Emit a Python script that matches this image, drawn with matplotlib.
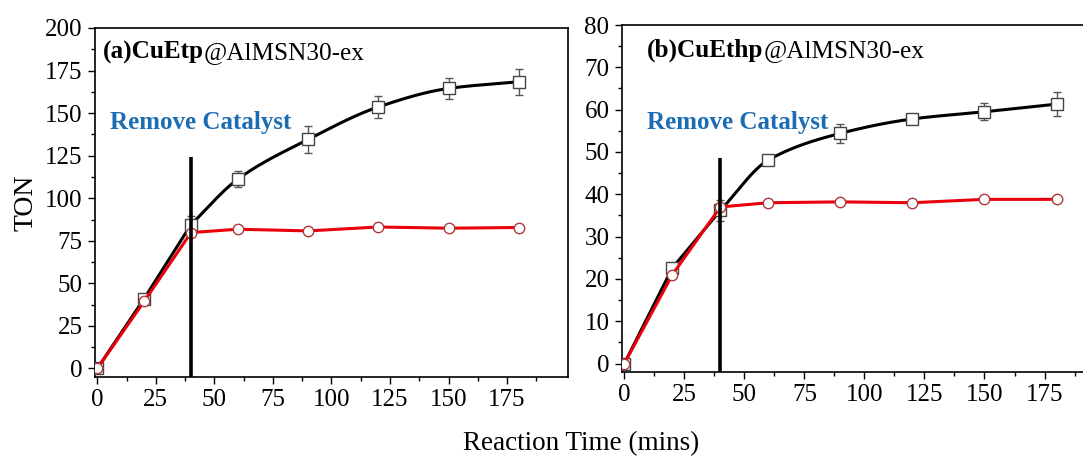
import numpy as np
import matplotlib
matplotlib.use("Agg")
import matplotlib.pyplot as plt
from matplotlib.ticker import MultipleLocator

plt.rcParams['font.family'] = ['Liberation Serif', 'DejaVu Serif']
plt.rcParams['font.size'] = 18

# Reaction times (mins)
time = [0, 20, 40, 60, 90, 120, 150, 180]

# (a) CuEtp@AlMSN30-ex
ton_a_cont = [0, 41, 84.5, 111.2, 134.5, 153.6, 164.5, 168.4]
err_a_cont = [0, 1.5, 5, 4.7, 7.7, 6.2, 6.3, 7.7]
ton_a_removed = [0, 39.4, 79.8, 81.8, 80.8, 83.1, 82.4, 82.8]

# (b) CuEthp@AlMSN30-ex
ton_b_cont = [0, 22.6, 36.2, 48.1, 54.4, 57.8, 59.5, 61.3]
err_b_cont = [0, 1.0, 2.5, 1.2, 2.3, 0.5, 2.0, 2.9]
ton_b_removed = [0, 21.0, 37.0, 38.0, 38.2, 38.0, 38.8, 38.8]

remove_time = 40


def monotone_curve(x, y, n=200):
    """Fritsch-Carlson monotone cubic through (x, y)."""
    x = np.asarray(x, float)
    y = np.asarray(y, float)
    h = np.diff(x)
    d = np.diff(y) / h
    m = np.zeros_like(y)
    m[0], m[-1] = d[0], d[-1]
    for i in range(1, len(x) - 1):
        if d[i - 1] * d[i] > 0:
            w1 = 2 * h[i] + h[i - 1]
            w2 = h[i] + 2 * h[i - 1]
            m[i] = (w1 + w2) / (w1 / d[i - 1] + w2 / d[i])
    xs = np.linspace(x[0], x[-1], n)
    idx = np.clip(np.searchsorted(x, xs) - 1, 0, len(x) - 2)
    t = (xs - x[idx]) / h[idx]
    h00 = 2 * t**3 - 3 * t**2 + 1
    h10 = t**3 - 2 * t**2 + t
    h01 = -2 * t**3 + 3 * t**2
    h11 = t**3 - t**2
    ys = (h00 * y[idx] + h10 * h[idx] * m[idx]
          + h01 * y[idx + 1] + h11 * h[idx] * m[idx + 1])
    return xs, ys


def draw_panel(ax, cont, err, removed, ylim, ymajor, vtop,
               bold, rest, title_pos, label_pos):
    k = time.index(remove_time)
    # black line: straight up to removal, smooth afterwards
    xs, ys = monotone_curve(time[k:], cont[k:])
    ax.plot(time[:k + 1], cont[:k + 1], color='black', lw=2.2, zorder=2)
    ax.plot(xs, ys, color='black', lw=2.2, zorder=2)
    ax.errorbar(time, cont, yerr=err, fmt='none', ecolor='#555555',
                elinewidth=1, capsize=3, capthick=1, zorder=3)
    ax.plot(time, cont, ls='none', marker='s', ms=8, mfc='white',
            mec='#444444', mew=1, zorder=4)
    ax.plot(time, removed, color='#e8000b', lw=2.2, marker='o', ms=7.5,
            mfc='white', mec='#b03a3a', mew=1, zorder=5)

    ax.vlines(remove_time, ylim[0], vtop, color='black', lw=2.6, zorder=6)

    ax.set_xlim(-1, 201)
    ax.set_ylim(*ylim)
    ax.xaxis.set_major_locator(MultipleLocator(25))
    ax.xaxis.set_minor_locator(MultipleLocator(12.5))
    ax.yaxis.set_major_locator(MultipleLocator(ymajor))
    ax.yaxis.set_minor_locator(MultipleLocator(ymajor / 2))
    ax.set_xticks(np.arange(0, 200, 25))
    ax.set_xticks(np.arange(12.5, 195, 25), minor=True)
    ax.tick_params(which='major', direction='out', length=5, width=1, pad=4)
    ax.tick_params(which='minor', direction='out', length=3, width=1)
    for s in ax.spines.values():
        s.set_linewidth(1.2)

    t1 = ax.text(title_pos[0], title_pos[1], bold, transform=ax.transAxes,
                 fontsize=18.2, fontweight='bold', va='center', ha='left')
    ax.annotate(rest, xy=(1, 0), xycoords=t1, fontsize=18.2,
                va='bottom', ha='left')
    ax.text(label_pos[0], label_pos[1], 'Remove Catalyst',
            transform=ax.transAxes, fontsize=18, fontweight='bold',
            color='#1a6cb3', va='center', ha='left')


fig = plt.figure(figsize=(10.83, 4.58), dpi=100)
ax_a = fig.add_axes([0.0877, 0.1769, 0.4367, 0.762])
ax_b = fig.add_axes([0.5743, 0.1878, 0.4478, 0.7576])

draw_panel(ax_a, ton_a_cont, err_a_cont, ton_a_removed, (-5, 200), 25, 124,
           '(a)CuEtp', '@AlMSN30-ex', (0.017, 0.931), (0.032, 0.728))
draw_panel(ax_b, ton_b_cont, err_b_cont, ton_b_removed, (-2, 80), 10, 48.6,
           '(b)CuEthp', '@AlMSN30-ex', (0.052, 0.928), (0.052, 0.718))

ax_a.set_ylabel('TON', fontsize=20, labelpad=5)
fig.text(0.537, 0.018, 'Reaction Time (mins)', ha='center', va='baseline',
         fontsize=19.5)

fig.savefig('out.png', dpi=100)
